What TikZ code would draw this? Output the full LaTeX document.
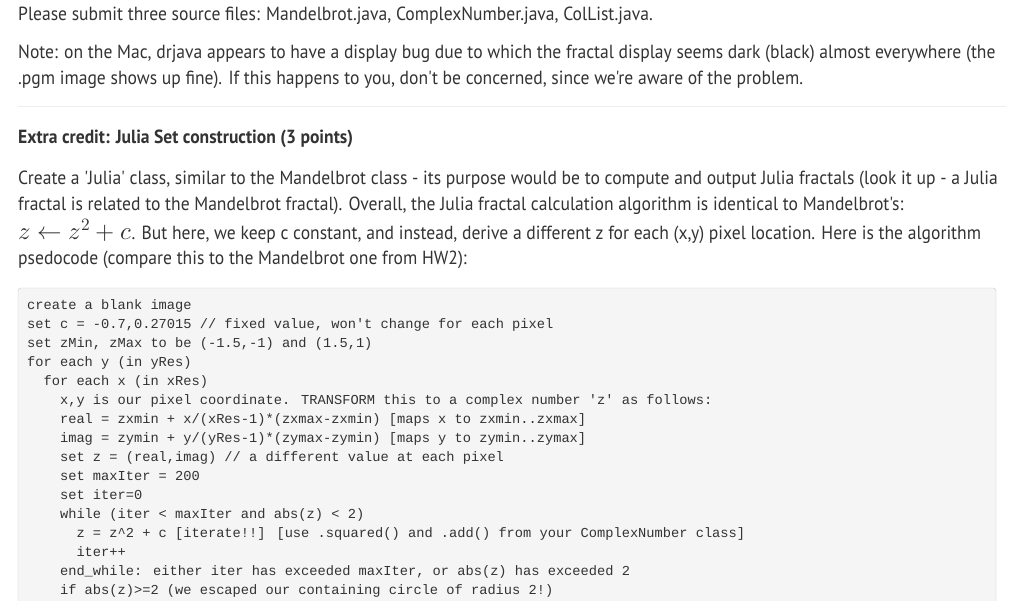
\documentclass[tikz,border=0pt]{standalone}
\usepackage{fontspec}
\setmainfont[FakeStretch=0.925,Ligatures=TeXOff]{PT Sans}
\newfontfamily\codefont{Liberation Mono}
\usepackage{unicode-math}
\setmathfont[Scale=1.3]{Latin Modern Math}
\definecolor{txt}{HTML}{333333}
\definecolor{codebg}{HTML}{F5F5F5}
\definecolor{codebd}{HTML}{CCCCCC}
\begin{document}
\begin{tikzpicture}[x=1pt,y=-1pt,
  tl/.style={anchor=base west,inner sep=0pt,text=txt,font=\fontsize{19}{22}\selectfont},
  hd/.style={tl,font=\fontsize{19}{22}\selectfont\bfseries},
  cl/.style={anchor=base west,inner sep=0pt,text=txt,font=\codefont\fontsize{13.7}{16}\selectfont}]
\useasboundingbox[fill=white] (0,0) rectangle (1024,600);
\node[tl] (l1) at (18,20) {Please submit three source files: Mandelbrot.java, ComplexNumber.java, ColList.java.};
\node[tl] (l2) at (18,58) {Note: on the Mac, drjava appears to have a display bug due to which the fractal display seems dark (black) almost everywhere (the};
\node[tl] (l3) at (18,84) {.pgm image shows up fine). If this happens to you, don't be concerned, since we're aware of the problem.};
\draw[color=black!7,line width=1pt] (18,106) -- (1006,106);
\node[hd] (h) at (18,143) {Extra credit: Julia Set construction (3 points)};
\node[tl] (p1) at (18,184) {Create a 'Julia' class, similar to the Mandelbrot class - its purpose would be to compute and output Julia fractals (look it up - a Julia};
\node[tl] (p2) at (18,210) {fractal is related to the Mandelbrot fractal). Overall, the Julia fractal calculation algorithm is identical to Mandelbrot's:};
\node[tl] (p3) at (18,239) {$z \leftarrow z^2 + c$. But here, we keep c constant, and instead, derive a different z for each (x,y) pixel location. Here is the algorithm};
\node[tl] (p4) at (18,264) {psedocode (compare this to the Mandelbrot one from HW2):};
\draw[fill=codebg,draw=codebd,rounded corners=3pt] (18,288) rectangle (996,612);
\begin{scope}[every node/.style={cl}]
\node (c1) at (27,309) {create a blank image};
\node (c2) at (27,328) {set c = -0.7,0.27015 // fixed value, won't change for each pixel};
\node (c3) at (27,347) {set zMin, zMax to be (-1.5,-1) and (1.5,1)};
\node (c4) at (27,366) {for each y (in yRes)};
\node (c5) at (27,385) {\ \ for each x (in xRes)};
\node (c6) at (27,404) {\ \ \ \ x,y is our pixel coordinate. TRANSFORM this to a complex number 'z' as follows:};
\node (c7) at (27,423) {\ \ \ \ real = zxmin + x/(xRes-1)*(zxmax-zxmin) [maps x to zxmin..zxmax]};
\node (c8) at (27,442) {\ \ \ \ imag = zymin + y/(yRes-1)*(zymax-zymin) [maps y to zymin..zymax]};
\node (c9) at (27,461) {\ \ \ \ set z = (real,imag) // a different value at each pixel};
\node (c10) at (27,480) {\ \ \ \ set maxIter = 200};
\node (c11) at (27,499) {\ \ \ \ set iter=0};
\node (c12) at (27,518) {\ \ \ \ while (iter < maxIter and abs(z) < 2)};
\node (c13) at (27,537) {\ \ \ \ \ \ z = z\string^2 + c [iterate!!] [use .squared() and .add() from your ComplexNumber class]};
\node (c14) at (27,556) {\ \ \ \ \ \ iter++};
\node (c15) at (27,575) {\ \ \ \ end\_while: either iter has exceeded maxIter, or abs(z) has exceeded 2};
\node (c16) at (27,594) {\ \ \ \ if abs(z)>=2 (we escaped our containing circle of radius 2!)};
\end{scope}
\end{tikzpicture}
\end{document}
